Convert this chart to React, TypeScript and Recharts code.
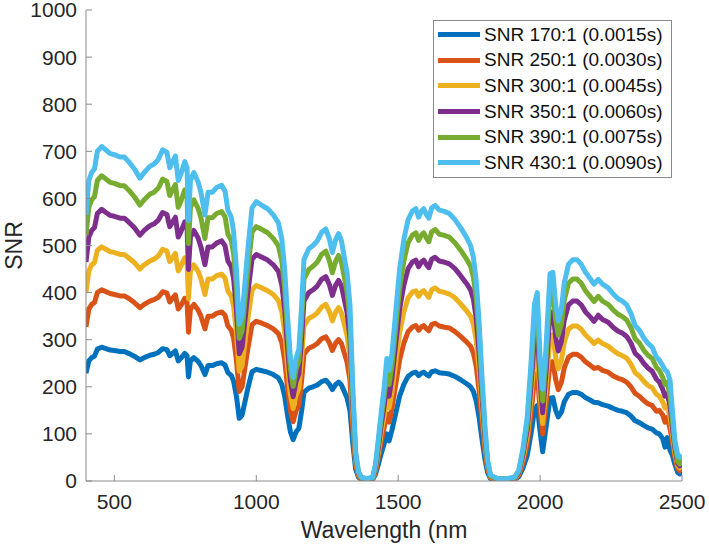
import { LineChart, Line, XAxis, YAxis, Legend, Label } from "recharts";

const wavelength = [
  400, 410, 420, 430, 440, 455, 470, 485, 500, 520,
  535, 550, 570, 590, 605, 625, 640, 655, 670, 685,
  695, 705, 715, 725, 735, 748, 756, 761, 768, 780,
  795, 805, 819, 830, 845, 860, 878, 890, 900, 912,
  920, 930, 940, 950, 960, 970, 985, 1000, 1020, 1040,
  1060, 1078, 1090, 1100, 1110, 1120, 1130, 1140, 1150, 1160,
  1168, 1185, 1200, 1215, 1230, 1245, 1258, 1268, 1280, 1290,
  1300, 1310, 1320, 1330, 1340, 1350, 1360, 1370, 1390, 1410,
  1420, 1430, 1440, 1450, 1460, 1468, 1478, 1490, 1505, 1520,
  1535, 1550, 1562, 1572, 1582, 1590, 1600, 1608, 1618, 1630,
  1645, 1660, 1680, 1700, 1720, 1740, 1755, 1765, 1775, 1785,
  1795, 1806, 1815, 1825, 1850, 1880, 1910, 1925, 1940, 1955,
  1968, 1980, 1990, 2000, 2009, 2020, 2035, 2045, 2055, 2064,
  2075, 2085, 2100, 2115, 2130, 2145, 2160, 2176, 2190, 2205,
  2220, 2240, 2258, 2275, 2290, 2305, 2320, 2335, 2350, 2365,
  2380, 2395, 2410, 2420, 2432, 2440, 2448, 2458, 2466, 2475,
  2485, 2492, 2500,
];

const snr170 = [
  229, 255, 262, 265, 280, 284, 281, 278, 277, 275,
  275, 271, 265, 257, 262, 267, 269, 273, 281, 279,
  266, 271, 276, 255, 261, 271, 266, 221, 255, 262,
  254, 245, 226, 245, 245, 249, 251, 246, 230, 224,
  212, 180, 133, 140, 168, 196, 232, 237, 234, 231,
  226, 219, 205, 180, 140, 105, 88, 104, 112, 150,
  188, 197, 200, 204, 211, 214, 205, 194, 205, 210,
  204, 190, 176, 150, 80, 25, 8, 3, 2, 3,
  14, 35, 58, 78, 100, 85, 108, 140, 180, 205,
  222, 229, 231, 224, 229, 231, 226, 223, 232, 234,
  230, 229, 227, 222, 215, 207, 200, 190, 170, 135,
  90, 45, 18, 5, 2, 2, 3, 9, 28, 55,
  100, 150, 160, 105, 62, 110, 176, 177, 150, 136,
  146, 168, 184, 188, 188, 184, 177, 172, 167, 166,
  162, 159, 154, 150, 148, 145, 138, 128, 124, 118,
  113, 110, 102, 100, 90, 72, 92, 65, 55, 35,
  18, 15, 22,
];

const snr250 = [
  327, 365, 375, 379, 400, 406, 402, 398, 396, 393,
  393, 388, 379, 368, 375, 382, 385, 390, 402, 399,
  380, 388, 395, 365, 373, 388, 380, 316, 365, 375,
  363, 350, 323, 350, 350, 356, 359, 352, 329, 320,
  303, 257, 190, 200, 240, 280, 332, 339, 335, 330,
  323, 313, 293, 257, 200, 150, 126, 149, 160, 215,
  269, 282, 286, 292, 302, 306, 293, 277, 293, 300,
  292, 272, 252, 215, 114, 36, 11, 4, 3, 4,
  20, 50, 83, 112, 143, 125, 154, 200, 257, 293,
  317, 327, 330, 320, 327, 330, 323, 319, 332, 335,
  329, 327, 325, 317, 307, 296, 286, 272, 243, 193,
  129, 64, 26, 7, 3, 3, 4, 13, 40, 79,
  143, 215, 229, 150, 100, 157, 252, 253, 215, 194,
  209, 240, 263, 269, 269, 263, 253, 246, 239, 241,
  235, 231, 223, 218, 215, 210, 200, 186, 180, 171,
  164, 160, 148, 150, 140, 125, 135, 110, 85, 50,
  26, 22, 32,
];

const snr300 = [
  401, 446, 459, 464, 490, 497, 492, 487, 485, 481,
  481, 474, 464, 450, 459, 467, 471, 478, 492, 488,
  466, 474, 483, 446, 457, 474, 466, 387, 446, 459,
  445, 429, 396, 429, 429, 436, 439, 431, 403, 392,
  371, 315, 233, 245, 294, 343, 406, 415, 410, 404,
  396, 383, 359, 315, 245, 184, 154, 182, 196, 263,
  329, 345, 350, 357, 369, 375, 359, 340, 359, 368,
  357, 333, 308, 263, 140, 44, 14, 5, 4, 5,
  25, 61, 102, 137, 175, 155, 189, 245, 315, 359,
  389, 401, 404, 392, 401, 404, 396, 390, 406, 410,
  403, 401, 397, 389, 376, 362, 350, 333, 298, 236,
  158, 79, 32, 9, 4, 4, 5, 16, 49, 96,
  175, 263, 280, 184, 122, 193, 308, 310, 263, 238,
  256, 294, 322, 329, 329, 322, 310, 301, 292, 299,
  292, 286, 277, 270, 266, 261, 248, 230, 223, 212,
  203, 198, 184, 180, 168, 155, 160, 135, 100, 60,
  32, 28, 38,
];

const snr350 = [
  465, 518, 532, 538, 568, 577, 570, 564, 562, 558,
  558, 550, 538, 522, 532, 542, 546, 554, 570, 566,
  540, 550, 560, 518, 530, 550, 540, 449, 518, 532,
  516, 497, 459, 497, 497, 505, 510, 499, 467, 455,
  430, 365, 270, 284, 341, 398, 471, 481, 475, 469,
  459, 445, 416, 365, 284, 213, 179, 211, 227, 305,
  382, 400, 406, 414, 428, 434, 416, 394, 416, 426,
  414, 386, 357, 305, 162, 51, 16, 6, 4, 6,
  28, 71, 118, 158, 203, 180, 219, 284, 365, 416,
  451, 465, 469, 455, 465, 469, 459, 453, 471, 475,
  467, 465, 461, 451, 436, 420, 406, 386, 345, 274,
  183, 91, 37, 10, 4, 4, 6, 18, 57, 112,
  203, 305, 325, 213, 145, 223, 357, 359, 305, 276,
  296, 341, 374, 382, 382, 374, 359, 349, 339, 352,
  343, 337, 326, 318, 314, 307, 293, 271, 263, 250,
  240, 233, 216, 210, 195, 180, 185, 160, 115, 70,
  37, 32, 45,
];

const snr390 = [
  522, 581, 597, 604, 638, 648, 641, 634, 632, 627,
  627, 618, 604, 586, 597, 609, 613, 622, 641, 636,
  606, 618, 629, 581, 595, 618, 606, 504, 581, 597,
  579, 559, 515, 559, 559, 568, 572, 561, 524, 511,
  483, 410, 303, 319, 383, 447, 529, 540, 534, 527,
  515, 499, 467, 410, 319, 239, 201, 237, 255, 342,
  429, 449, 456, 465, 481, 488, 467, 442, 467, 479,
  465, 433, 401, 342, 182, 57, 18, 7, 5, 7,
  32, 80, 132, 178, 228, 205, 246, 319, 410, 467,
  506, 522, 527, 511, 522, 527, 515, 508, 529, 534,
  524, 522, 518, 506, 490, 472, 456, 433, 388, 308,
  205, 103, 41, 11, 5, 5, 7, 21, 64, 125,
  228, 342, 365, 239, 170, 251, 401, 404, 342, 310,
  333, 383, 420, 429, 429, 420, 404, 392, 381, 392,
  382, 375, 363, 354, 349, 342, 326, 302, 293, 278,
  267, 260, 241, 235, 220, 205, 210, 180, 130, 78,
  41, 36, 50,
];

const snr430 = [
  565, 638, 655, 663, 700, 710, 703, 695, 693, 688,
  688, 678, 663, 643, 655, 668, 673, 683, 703, 698,
  665, 678, 690, 638, 653, 678, 665, 553, 638, 655,
  635, 613, 565, 613, 613, 623, 628, 615, 575, 560,
  530, 450, 333, 350, 420, 490, 580, 593, 585, 578,
  565, 548, 513, 450, 350, 263, 220, 260, 280, 375,
  470, 493, 500, 510, 528, 535, 513, 485, 513, 525,
  510, 475, 440, 375, 200, 63, 20, 8, 5, 8,
  35, 88, 145, 195, 260, 235, 270, 350, 450, 513,
  555, 573, 578, 560, 573, 578, 565, 558, 580, 585,
  575, 573, 568, 555, 538, 518, 500, 475, 425, 338,
  225, 113, 45, 13, 5, 5, 8, 23, 70, 138,
  250, 375, 400, 263, 195, 275, 440, 443, 375, 340,
  365, 420, 460, 470, 470, 460, 443, 430, 418, 428,
  418, 410, 397, 387, 382, 374, 356, 330, 320, 304,
  292, 284, 263, 257, 245, 236, 232, 214, 150, 85,
  55, 50, 55,
];

const seriesKeys = ["s170", "s250", "s300", "s350", "s390", "s430"];
const seriesValues = [snr170, snr250, snr300, snr350, snr390, snr430];
const seriesNames = [
  "SNR 170:1 (0.0015s)",
  "SNR 250:1 (0.0030s)",
  "SNR 300:1 (0.0045s)",
  "SNR 350:1 (0.0060s)",
  "SNR 390:1 (0.0075s)",
  "SNR 430:1 (0.0090s)",
];
const seriesColors = ["#0072BD", "#D95319", "#EDB120", "#7E2F8E", "#77AC30", "#4DBEEE"];

const xTicks = [500, 1000, 1500, 2000, 2500];
const yTicks = [0, 100, 200, 300, 400, 500, 600, 700, 800, 900, 1000];

const data = wavelength.map((w, i) => {
  const row: Record<string, number> = { w };
  seriesKeys.forEach((k, j) => {
    row[k] = seriesValues[j][i];
  });
  return row;
});

const AXIS = "#8a8a8a";
const TEXT = "#262626";
const FONT = "'Liberation Sans', Arial, Helvetica, sans-serif";

function LegendBox() {
  return (
    <div
      style={{
        width: 239,
        height: 158,
        boxSizing: "border-box",
        border: `1px solid ${AXIS}`,
        background: "#fff",
        paddingTop: 1,
      }}
    >
      {seriesNames.map((name, i) => (
        <div key={name} style={{ display: "flex", alignItems: "center", height: 25.6 }}>
          <span
            style={{ display: "inline-block", width: 42, height: 5, marginLeft: 4, background: seriesColors[i] }}
          />
          <span style={{ marginLeft: 4, fontSize: 19, color: "#111", lineHeight: "20px", whiteSpace: "nowrap" }}>
            {name}
          </span>
        </div>
      ))}
    </div>
  );
}

export default function App() {
  return (
    <div style={{ position: "absolute", left: 0, top: 0, width: 709, height: 547, background: "#fff", fontFamily: FONT }}>
      <LineChart width={709} height={547} data={data} margin={{ top: 10, right: 27, bottom: 0, left: 0 }}>
        <XAxis
          xAxisId="b"
          dataKey="w"
          type="number"
          domain={[400, 2500]}
          ticks={xTicks}
          interval={0}
          allowDataOverflow
          height={66}
          tickSize={-6}
          tickMargin={19}
          stroke={AXIS}
          tick={{ fill: TEXT, fontSize: 21 }}
        >
          <Label
            content={(props: any) => {
              const vb = props.viewBox || {};
              return (
                <text x={vb.x + vb.width / 2} y={vb.y + 57} textAnchor="middle" fontSize={23} fill={TEXT}>
                  Wavelength (nm
                </text>
              );
            }}
          />
        </XAxis>
        <XAxis
          xAxisId="t"
          orientation="top"
          type="number"
          domain={[400, 2500]}
          ticks={xTicks}
          interval={0}
          allowDataOverflow
          height={0}
          tickSize={-6}
          stroke={AXIS}
          tick={() => null}
        />
        <YAxis
          yAxisId="l"
          type="number"
          domain={[0, 1000]}
          ticks={yTicks}
          interval={0}
          allowDataOverflow
          width={86}
          tickSize={-6}
          tickMargin={15}
          stroke={AXIS}
          tick={{ fill: TEXT, fontSize: 21 }}
        >
          <Label
            content={(props: any) => {
              const vb = props.viewBox || {};
              const cx = 21.5;
              const cy = vb.y + vb.height / 2;
              return (
                <text
                  x={cx}
                  y={cy}
                  transform={`rotate(-90 ${cx} ${cy})`}
                  textAnchor="middle"
                  fontSize={23}
                  fill={TEXT}
                >
                  SNR
                </text>
              );
            }}
          />
        </YAxis>
        <YAxis
          yAxisId="r"
          orientation="right"
          type="number"
          domain={[0, 1000]}
          ticks={yTicks}
          interval={0}
          allowDataOverflow
          width={0}
          tickSize={-6}
          stroke={AXIS}
          tick={() => null}
        />
        <Legend
          layout="vertical"
          align="center"
          verticalAlign="middle"
          wrapperStyle={{ left: 433, top: 20, width: 239, height: 158 }}
          content={() => <LegendBox />}
        />
        {seriesKeys.map((k, i) => (
          <Line
            key={k}
            xAxisId="b"
            yAxisId="l"
            type="linear"
            dataKey={k}
            name={seriesNames[i]}
            stroke={seriesColors[i]}
            strokeWidth={5}
            strokeLinejoin="round"
            dot={false}
            activeDot={false}
            isAnimationActive={false}
          />
        ))}
      </LineChart>
    </div>
  );
}
